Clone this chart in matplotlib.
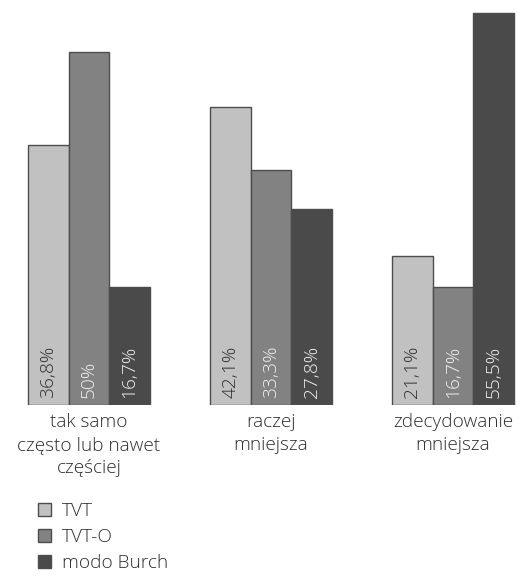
import numpy as np
import matplotlib
matplotlib.use('Agg')
import matplotlib.pyplot as plt

plt.rcParams['font.family'] = ['Open Sans', 'DejaVu Sans']
plt.rcParams['font.weight'] = 'light'

kategorie = ['tak samo\nczęsto lub nawet\nczęściej', 'raczej\nmniejsza', 'zdecydowanie\nmniejsza']
serie = ['TVT', 'TVT-O', 'modo Burch']
tvt = [36.8, 42.1, 21.1]
tvt_o = [50.0, 33.3, 16.7]
burch = [16.7, 27.8, 55.5]
etykiety = [['36,8%', '42,1%', '21,1%'],
            ['50%', '33,3%', '16,7%'],
            ['16,7%', '27,8%', '55,5%']]

kolory = ['#c1c1c1', '#828282', '#4a4a4a']
kolory_tekstu = ['#2e2e2e', '#f2f2f2', '#f2f2f2']

fig = plt.figure(figsize=(5.2, 5.77), dpi=100)
ax = fig.add_axes([0, 0.298, 1, 0.702])

x = np.arange(len(kategorie))
szer = 0.223
paski = []
for i, wartosci in enumerate([tvt, tvt_o, burch]):
    poz = x + (i - 1) * szer
    b = ax.bar(poz, wartosci, width=szer, color=kolory[i], edgecolor='#4d4d4d',
               linewidth=1.0, label=serie[i])
    paski.append(b)
    for xp, txt in zip(poz, etykiety[i]):
        ax.text(xp, 1.0, txt, rotation=90, ha='center', va='bottom',
                fontsize=13.8, color=kolory_tekstu[i])

ax.set_xlim(-89 / 182, (520 - 89) / 182)
ax.set_ylim(0, 57.3)
ax.set_xticks(x)
ax.set_xticklabels(kategorie, fontsize=13.7, color='#2e2e2e', linespacing=1.36)
ax.tick_params(axis='x', length=0, pad=5.5)
ax.set_yticks([])
for s in ax.spines.values():
    s.set_visible(False)

# legenda pod wykresem
fig.legend(handles=paski, labels=serie, loc='upper left',
           bbox_to_anchor=(0.058, 0.143), frameon=False, fontsize=13.7,
           handlelength=0.7, handleheight=0.7, handletextpad=0.55,
           labelspacing=0.42, labelcolor='#2e2e2e', borderaxespad=0)

fig.savefig('out.png', dpi=100)
